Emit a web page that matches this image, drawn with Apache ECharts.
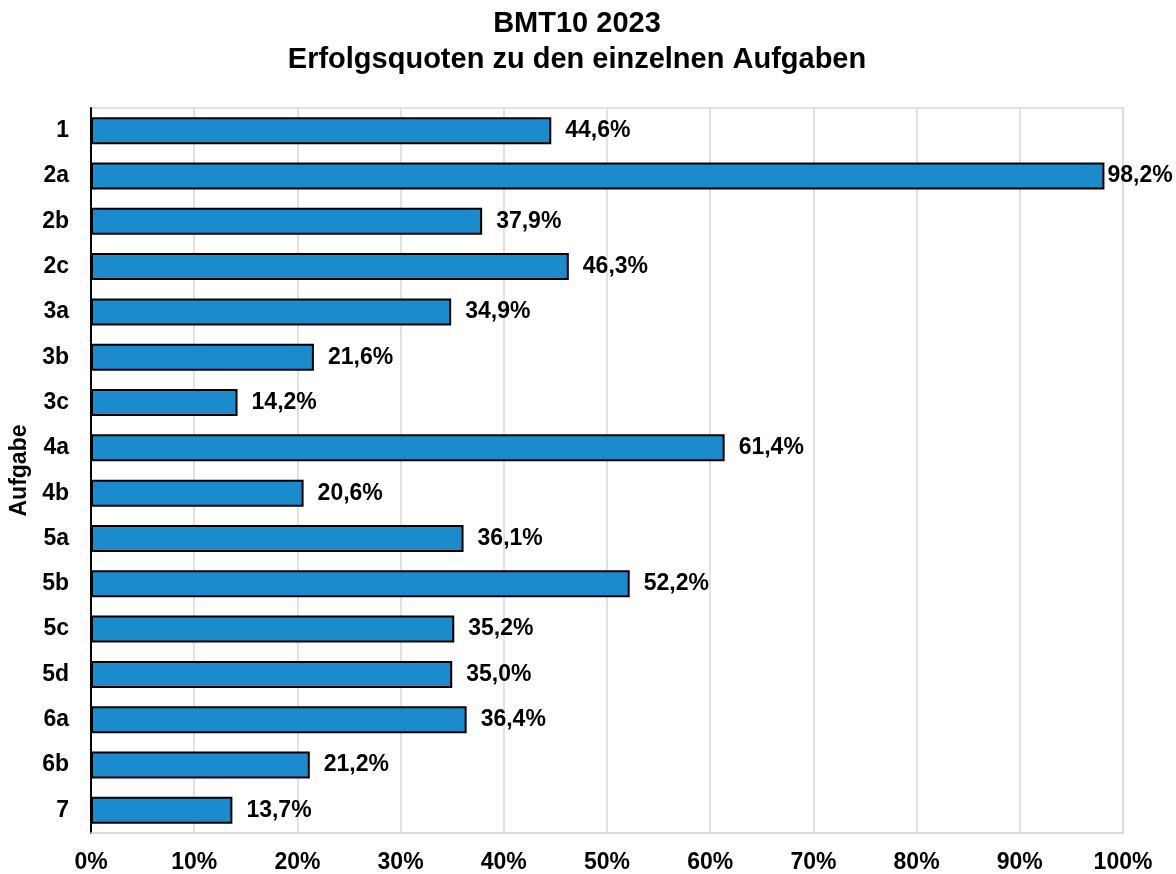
<!DOCTYPE html>
<html>
<head>
<meta charset="utf-8">
<script src="https://cdn.jsdelivr.net/npm/echarts@6/dist/echarts.min.js"></script>
<style>html,body{margin:0;padding:0;background:#fff}#c{width:1176px;height:874px}</style>
</head>
<body>
<div id="c"></div>
<script>
var categories = ['1','2a','2b','2c','3a','3b','3c','4a','4b','5a','5b','5c','5d','6a','6b','7'];
var values = [44.6,98.2,37.9,46.3,34.9,21.6,14.2,61.4,20.6,36.1,52.2,35.2,35.0,36.4,21.2,13.7];
var xTicks = [0,10,20,30,40,50,60,70,80,90,100];
var titleText = 'BMT10 2023\nErfolgsquoten zu den einzelnen Aufgaben';
var yName = 'Aufgabe';

var FONT = '"Liberation Sans", Arial, sans-serif';
var chart = echarts.init(document.getElementById('c'), null, {renderer: 'canvas'});
var data = values.map(function (v) {
  var item = {value: v};
  if (v > 90) item.label = {distance: 3};
  return item;
});
chart.setOption({
  backgroundColor: '#ffffff',
  animation: false,
  title: {
    text: titleText,
    left: 577,
    top: 2,
    textAlign: 'center',
    padding: [4, 0],
    textStyle: {fontFamily: FONT, fontWeight: 'bold', fontSize: 29, lineHeight: 36, color: '#000'}
  },
  grid: {
    left: 91, right: 53, top: 108, bottom: 38,
    show: true, borderColor: '#D9D9D9', borderWidth: 1.5, backgroundColor: 'transparent'
  },
  xAxis: {
    type: 'value',
    min: xTicks[0], max: xTicks[xTicks.length - 1], interval: xTicks[1] - xTicks[0],
    axisLine: {show: true, lineStyle: {color: '#D9D9D9', width: 1.5}},
    axisTick: {show: false},
    splitLine: {show: true, lineStyle: {color: '#D9D9D9', width: 1.5}},
    axisLabel: {
      margin: 18,
      fontFamily: FONT, fontWeight: 'bold', fontSize: 23, color: '#000',
      formatter: function (v) { return v + '%'; }
    }
  },
  yAxis: {
    type: 'category',
    data: categories,
    inverse: true,
    name: yName,
    nameLocation: 'middle',
    nameRotate: 90,
    nameGap: 56,
    nameTextStyle: {fontFamily: FONT, fontWeight: 'bold', fontSize: 23, color: '#000'},
    axisLine: {show: true, lineStyle: {color: '#000', width: 2}},
    axisTick: {show: false},
    splitLine: {show: false},
    axisLabel: {margin: 22, fontFamily: FONT, fontWeight: 'bold', fontSize: 23, color: '#000'}
  },
  series: [{
    type: 'bar',
    data: data,
    barWidth: 27,
    itemStyle: {color: '#1B8BCC', borderColor: '#000', borderWidth: 2},
    label: {
      show: true, position: 'right', distance: 14,
      fontFamily: FONT, fontWeight: 'bold', fontSize: 23, color: '#000',
      formatter: function (p) { return p.value.toFixed(1).replace('.', ',') + '%'; }
    }
  }]
});
</script>
</body>
</html>
